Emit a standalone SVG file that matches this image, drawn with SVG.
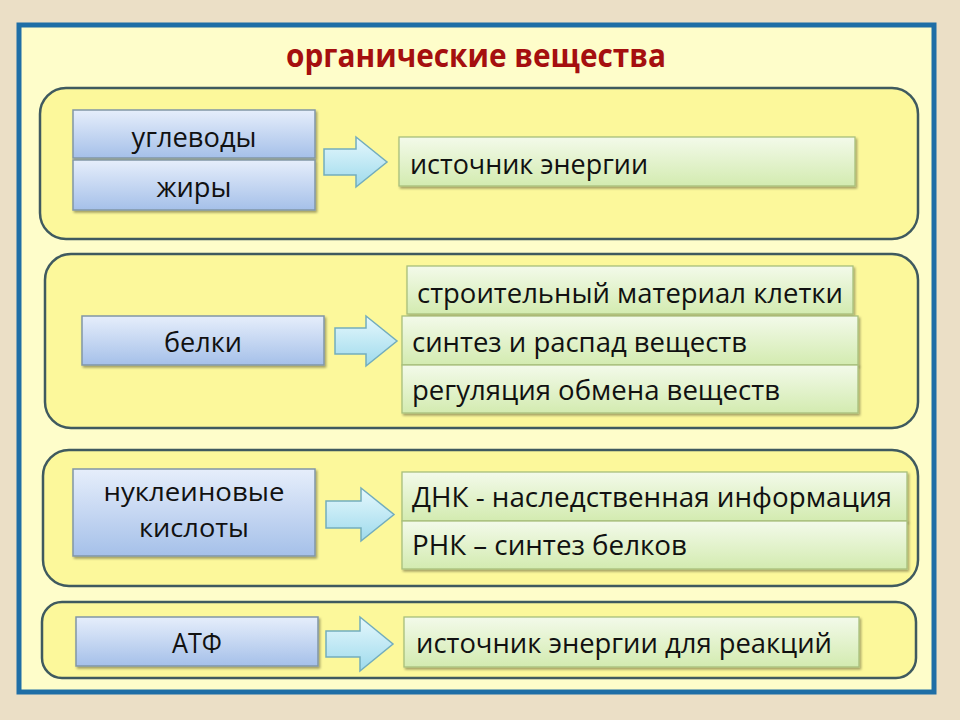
<svg xmlns="http://www.w3.org/2000/svg" width="960" height="720" viewBox="0 0 960 720">
<defs>
<linearGradient id="gBlue" x1="0" y1="0" x2="0" y2="1"><stop offset="0" stop-color="#e6eefb"/><stop offset="1" stop-color="#a5c0e9"/></linearGradient>
<linearGradient id="gGreen" x1="0" y1="0" x2="0" y2="1"><stop offset="0" stop-color="#f3faea"/><stop offset="1" stop-color="#d3ebb0"/></linearGradient>
<linearGradient id="gArrow" x1="0" y1="0" x2="0" y2="1"><stop offset="0" stop-color="#e6f8fd"/><stop offset="1" stop-color="#9edaec"/></linearGradient>
<filter id="sh" x="-5%" y="-10%" width="110%" height="130%"><feDropShadow dx="1.5" dy="2" stdDeviation="1.2" flood-color="#000" flood-opacity="0.35"/></filter>
<style>
.panel{fill:#fcf89b;stroke:#3f5a5f;stroke-width:2.5}
.blue{fill:url(#gBlue);stroke:#8196a6;stroke-width:1.5;filter:url(#sh)}
.green{fill:url(#gGreen);stroke:#a8bf7c;stroke-width:1.3;filter:url(#sh)}
.arr{fill:url(#gArrow);stroke:#73adbd;stroke-width:1.5}
.t{font-family:"Open Sans","Liberation Sans",sans-serif;font-size:28px;fill:#111}
.s{font-size:26px}
.c{text-anchor:middle}
.title{font-family:"Open Sans","Liberation Sans",sans-serif;font-size:33px;font-weight:bold;fill:#a50f0f;text-anchor:middle}
</style>
</defs>
<rect x="0" y="0" width="960" height="720" fill="#ebdfc6"/>
<rect x="19" y="25" width="915" height="667" fill="#fefdca" stroke="#1e6ea6" stroke-width="5"/>
<text class="title" x="476" y="67" textLength="380" lengthAdjust="spacingAndGlyphs">органические вещества</text>

<g id="panel1">
<rect class="panel" x="40" y="88" width="878" height="151" rx="26"/>
</g>
<g id="panel2">
<rect class="panel" x="45" y="254" width="873" height="174" rx="26"/>
</g>
<g id="panel3">
<rect class="panel" x="43" y="450" width="875" height="136" rx="26"/>
</g>
<g id="panel4">
<rect class="panel" x="42" y="602" width="874" height="76" rx="20"/>
</g>

<g id="n-uglevody"><rect class="blue" x="73" y="110" width="242" height="48"/><text class="t c" x="194" y="147" textLength="125" lengthAdjust="spacingAndGlyphs">углеводы</text></g>
<g id="n-zhiry"><rect class="blue" x="73" y="160" width="242" height="50"/><text class="t c" x="194" y="197" textLength="75" lengthAdjust="spacingAndGlyphs">жиры</text></g>
<g id="n-energy"><rect class="green" x="399" y="137" width="456" height="49"/><text class="t" x="410" y="174" textLength="238" lengthAdjust="spacingAndGlyphs">источник энергии</text></g>

<g id="n-belki"><rect class="blue" x="82" y="316" width="242" height="49"/><text class="t c" x="203" y="352" textLength="78" lengthAdjust="spacingAndGlyphs">белки</text></g>
<g id="n-stroit"><rect class="green" x="407" y="266" width="446" height="48"/><text class="t" x="417" y="303" textLength="426" lengthAdjust="spacingAndGlyphs">строительный материал клетки</text></g>
<g id="n-sintez"><rect class="green" x="402" y="316" width="456" height="49"/><text class="t" x="412" y="352" textLength="335" lengthAdjust="spacingAndGlyphs">синтез и распад веществ</text></g>
<g id="n-regul"><rect class="green" x="402" y="365" width="456" height="48"/><text class="t" x="412" y="400" textLength="368" lengthAdjust="spacingAndGlyphs">регуляция обмена веществ</text></g>

<g id="n-nukl"><rect class="blue" x="73" y="469" width="242" height="87"/><text class="t s c" x="194" y="501" textLength="181" lengthAdjust="spacingAndGlyphs">нуклеиновые</text><text class="t s c" x="194" y="537" textLength="110" lengthAdjust="spacingAndGlyphs">кислоты</text></g>
<g id="n-dnk"><rect class="green" x="402" y="472" width="505" height="49"/><text class="t" x="412" y="507" textLength="480" lengthAdjust="spacingAndGlyphs">ДНК - наследственная информация</text></g>
<g id="n-rnk"><rect class="green" x="402" y="521" width="505" height="48"/><text class="t" x="412" y="555" textLength="275" lengthAdjust="spacingAndGlyphs">РНК – синтез белков</text></g>

<g id="n-atf"><rect class="blue" x="76" y="617" width="242" height="49"/><text class="t c" x="197" y="653" textLength="50" lengthAdjust="spacingAndGlyphs">АТФ</text></g>
<g id="n-atf-energy"><rect class="green" x="404" y="617" width="455" height="50"/><text class="t" x="416" y="653" textLength="416" lengthAdjust="spacingAndGlyphs">источник энергии для реакций</text></g>

<g id="connectors">
<path class="arr" d="M324,149 H356 V137 L387,162 L356,187 V175 H324 Z"/>
<path class="arr" d="M335,328 H366 V316 L397,341 L366,366 V354 H335 Z"/>
<path class="arr" d="M326,501 H361 V488 L394,514.5 L361,541 V528 H326 Z"/>
<path class="arr" d="M326,631 H360 V617 L393,644 L360,671 V657 H326 Z"/>
</g>
</svg>
